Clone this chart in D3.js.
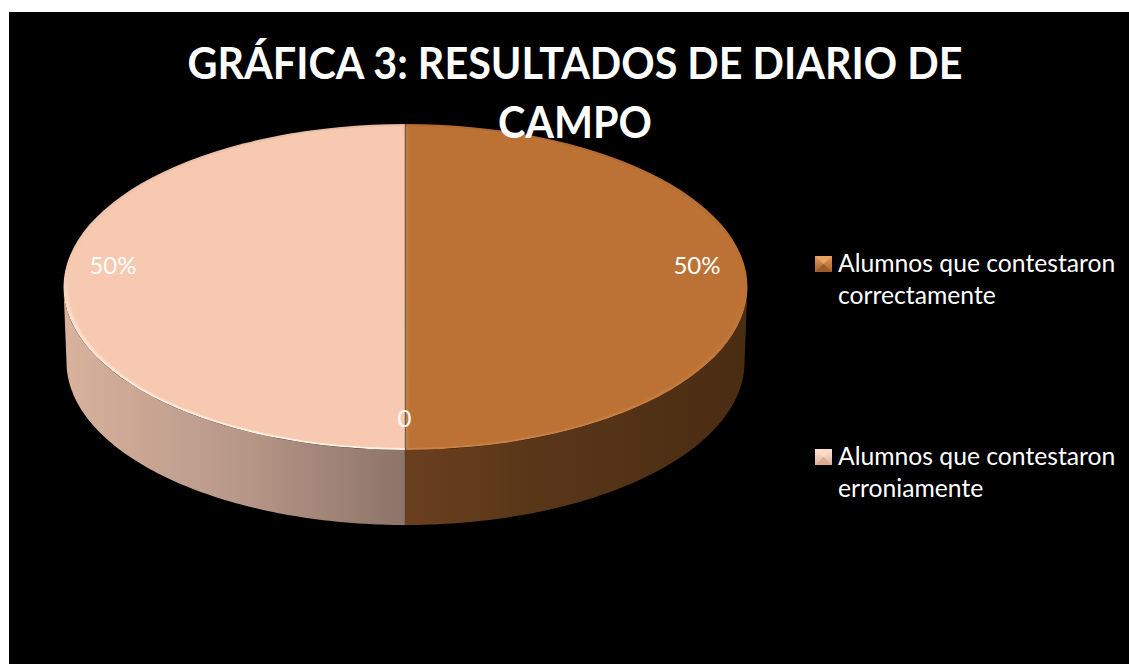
<!DOCTYPE html>
<html><head><meta charset="utf-8">
<script src="https://cdn.jsdelivr.net/npm/d3@7/dist/d3.min.js"></script>
<style>html,body{margin:0;padding:0;background:#fff;overflow:hidden}svg{display:block}text{font-family:Lato,"Noto Sans",sans-serif}</style>
</head><body><svg id="c" width="1129" height="664"></svg>
<script>
const titleLines = ["GRÁFICA 3: RESULTADOS DE DIARIO DE", "CAMPO"];
const sliceNames = ["Alumnos que contestaron correctamente", "", "Alumnos que contestaron erroniamente"];
const sliceValues = [50, 0, 50];
const sliceLabels = ["50%", "0", "50%"];
const legendLines = [["Alumnos que contestaron", "correctamente"], ["Alumnos que contestaron", "erroniamente"]];

const W = 1129, H = 664;
const svg = d3.select("#c");
const cx = 405.5, cy = 287, rx = 342, ry = 163, depth = 75, rxLow = 339;
const topFill = ["#bd7235", "#000", "#f6c9b0"];

const defs = svg.append("defs");
function grad(id, stops, vertical) {
  const g = defs.append("linearGradient").attr("id", id).attr("x1", 0).attr("y1", 0)
    .attr("x2", vertical ? 0 : 1).attr("y2", vertical ? 1 : 0);
  stops.forEach(s => g.append("stop").attr("offset", s[0]).attr("stop-color", s[1]));
}
grad("sideR", [[0, "#6a3f1e"], [0.35, "#5a3719"], [1, "#4a2c13"]]);
grad("sideL", [[0, "#d8b29c"], [0.5, "#b9998a"], [1, "#8c7468"]]);
grad("mk0", [[0, "#e09a58"], [1, "#a8622c"]], true);
grad("mk1", [[0, "#ffe6d6"], [1, "#e0b49c"]], true);
grad("rim0", [[0, "#b26a30"], [0.5, "#bd7235"], [1, "#c98246"]], true);
grad("rim2", [[0, "#e8bca4"], [0.45, "#f6c9b0"], [0.6, "#ffe2cf"], [1, "#fff0e4"]], true);
const blur = defs.append("filter").attr("id", "soft").attr("x", "-5%").attr("y", "-5%").attr("width", "110%").attr("height", "110%");
blur.append("feGaussianBlur").attr("stdDeviation", 1.5);

svg.append("rect").attr("x", 9).attr("y", 12).attr("width", W - 9).attr("height", H - 12).attr("fill", "#000");

const pie = d3.pie().value(d => d).sort(null);
const arcs = pie(sliceValues);
const xTop = a => cx + rx * Math.sin(a), yTop = a => cy - ry * Math.cos(a);
const xLow = a => cx + rxLow * Math.sin(a), yLow = a => cy + depth - ry * Math.cos(a);
const line = d3.line();

function sidePath(a0, a1) {
  const n = 90, A = d3.range(n + 1).map(i => a0 + (a1 - a0) * i / n);
  const pts = A.map(a => [xTop(a), yTop(a)]).concat(A.slice().reverse().map(a => [xLow(a), yLow(a)]));
  return line(pts) + "Z";
}
svg.append("path").attr("d", sidePath(arcs[0].endAngle, arcs[0].startAngle + Math.PI / 2)).attr("fill", "url(#sideR)");
svg.append("path").attr("d", sidePath(arcs[2].startAngle, arcs[2].endAngle - Math.PI / 2)).attr("fill", "url(#sideL)");

const arc = d3.arc().innerRadius(0).outerRadius(rx);
const gTop = svg.append("g").attr("transform", `translate(${cx},${cy}) scale(1,${ry / rx})`);
gTop.selectAll("path.rim").data(arcs.filter(d => d.value > 0)).join("path")
  .attr("class", "rim").attr("d", arc).attr("fill", d => `url(#rim${d.index})`);
const arcIn = d3.arc().innerRadius(0).outerRadius(rx - 4);
gTop.selectAll("path.face").data(arcs.filter(d => d.value > 0)).join("path")
  .attr("class", "face").attr("d", arcIn).attr("fill", d => topFill[d.index]).attr("filter", "url(#soft)");

svg.append("line").attr("x1", cx).attr("x2", cx).attr("y1", cy - ry).attr("y2", cy + ry + depth)
  .attr("stroke", "#5b3a22").attr("stroke-opacity", 0.7).attr("stroke-width", 1.5);

const labelShift = [[291.5, -21], [-1, 132], [-292.5, -21]];
svg.selectAll("text.lbl").data(arcs).join("text").attr("class", "lbl")
  .attr("x", d => cx + labelShift[d.index][0]).attr("y", d => cy + labelShift[d.index][1])
  .attr("dy", "0.35em").attr("text-anchor", "middle").attr("font-size", 24).attr("fill", "#fff")
  .text(d => sliceLabels[d.index]);

function squeeze(sel, k) {
  sel.each(function () {
    this.setAttribute("textLength", this.getComputedTextLength() * k);
    this.setAttribute("lengthAdjust", "spacingAndGlyphs");
  });
}
svg.selectAll("text.ttl").data(titleLines).join("text").attr("class", "ttl")
  .attr("x", 575).attr("y", (d, i) => 79 + i * 59).attr("text-anchor", "middle")
  .attr("font-size", 43.5).attr("font-weight", 700).attr("fill", "#fff").text(d => d)
  .call(squeeze, 0.95);

const legendY = d3.scalePoint().domain([0, 1]).range([256, 449]);
const lg = svg.selectAll("g.lg").data(legendLines).join("g").attr("class", "lg")
  .attr("transform", (d, i) => `translate(815,${legendY(i)})`);
lg.append("rect").attr("width", 17).attr("height", 16).attr("fill", (d, i) => `url(#mk${i})`);
lg.append("path").attr("d", line([[0, 0], [17, 0], [8.5, 8]]) + "Z").attr("fill", (d, i) => i ? "#ffdcc8" : "#e8a360");
lg.append("path").attr("d", line([[0, 16], [17, 16], [8.5, 8]]) + "Z").attr("fill", (d, i) => i ? "#d9ac94" : "#9c5c2a");
lg.selectAll("text").data(d => d).join("text").attr("x", 23).attr("y", (d, i) => 16 + i * 32)
  .attr("font-size", 25.5).attr("fill", "#fff").text(d => d)
  .call(squeeze, 0.968);
</script></body></html>
